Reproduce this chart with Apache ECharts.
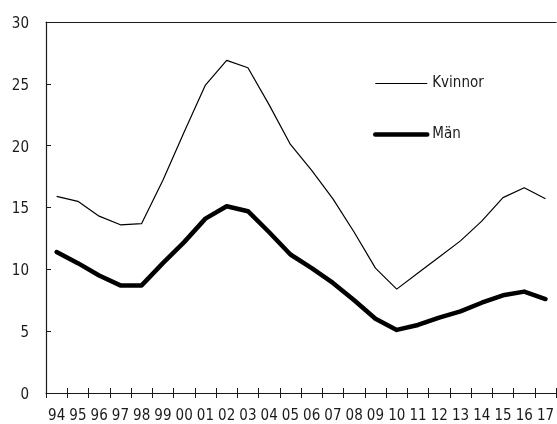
<!DOCTYPE html>
<html>
<head>
<meta charset="utf-8">
<script src="https://cdn.jsdelivr.net/npm/echarts@6/dist/echarts.min.js"></script>
<style>
html,body{margin:0;padding:0;background:#fff;}
#c{width:557px;height:424px;}
</style>
</head>
<body>
<div id="c"></div>
<script>
const years = ['94','95','96','97','98','99','00','01','02','03','04','05','06','07','08','09','10','11','12','13','14','15','16','17'];
const kvinnor = [15.9,15.5,14.3,13.6,13.7,17.2,21.1,24.9,26.9,26.3,23.3,20.1,18.0,15.7,13.0,10.1,8.4,9.7,11.0,12.3,13.9,15.8,16.6,15.7];
const man = [11.4,10.5,9.5,8.7,8.7,10.5,12.2,14.1,15.1,14.7,13.0,11.2,10.1,8.9,7.5,6.0,5.1,5.5,6.1,6.6,7.3,7.9,8.2,7.6];
const yTicks = [0,5,10,15,20,25,30];

const FONT = '"DejaVu Sans Condensed","Liberation Sans Narrow",Roboto,sans-serif';
const ink = '#1a1a1a';
const clear = {color:'rgba(0,0,0,0)', borderColor:'rgba(0,0,0,0)', borderWidth:0, opacity:0};

const chart = echarts.init(document.getElementById('c'), null, {renderer:'canvas'});
chart.setOption({
  animation:false,
  backgroundColor:'#fff',
  textStyle:{fontFamily:FONT, color:ink},
  grid:{left:46, width:514, top:22, bottom:31, show:false, containLabel:false},
  legend:{
    show:true, padding:0,
    orient:'vertical', left:373, top:76, right:'auto', bottom:'auto',
    itemWidth:52, itemHeight:14, itemGap:36,
    textStyle:{fontFamily:FONT, fontSize:15, color:ink},
    data:[
      {name:'Kvinnor', lineStyle:{width:1.2}, itemStyle:clear},
      {name:'Män', lineStyle:{width:4.5, cap:'round'}, itemStyle:clear}
    ],
    selectedMode:false
  },
  xAxis:[
    {type:'category', data:years, position:'bottom', boundaryGap:true,
     axisLine:{show:true, lineStyle:{color:ink, width:1.2}},
     axisTick:{show:true, inside:false, length:5, alignWithLabel:false, lineStyle:{color:ink}},
     axisLabel:{fontFamily:FONT, fontSize:15, color:ink, margin:16, interval:0, hideOverlap:false},
     splitLine:{show:false}},
    {type:'category', data:years, position:'bottom', boundaryGap:true,
     axisLine:{show:false},
     axisTick:{show:true, inside:true, length:5, lineStyle:{color:ink}},
     axisLabel:{show:false}, splitLine:{show:false}},
    {type:'category', data:years, position:'top', boundaryGap:true,
     axisLine:{show:true, lineStyle:{color:ink, width:1}},
     axisTick:{show:false}, axisLabel:{show:false}, splitLine:{show:false}}
  ],
  yAxis:{type:'value', min:0, max:30, interval:5,
    axisLine:{show:true, lineStyle:{color:ink, width:1.2}},
    axisTick:{show:true, inside:true, length:5, lineStyle:{color:ink}},
    axisLabel:{fontFamily:FONT, fontSize:15, color:ink, margin:17,
      rich:{a:{fontFamily:FONT, fontSize:15, color:ink, padding:[4,0,0,0]}},
      formatter:function(v){return yTicks.indexOf(v)>=0 ? '{a|' + v + '}' : '';}},
    splitLine:{show:false}},
  series:[
    {name:'Kvinnor', type:'line', data:kvinnor, symbol:'none',
     lineStyle:{color:'#000', width:1.2}, itemStyle:{color:'#000'}},
    {name:'Män', type:'line', data:man, symbol:'none',
     lineStyle:{color:'#000', width:4.5, cap:'round', join:'round'}, itemStyle:{color:'#000'}}
  ]
});
</script>
</body>
</html>
